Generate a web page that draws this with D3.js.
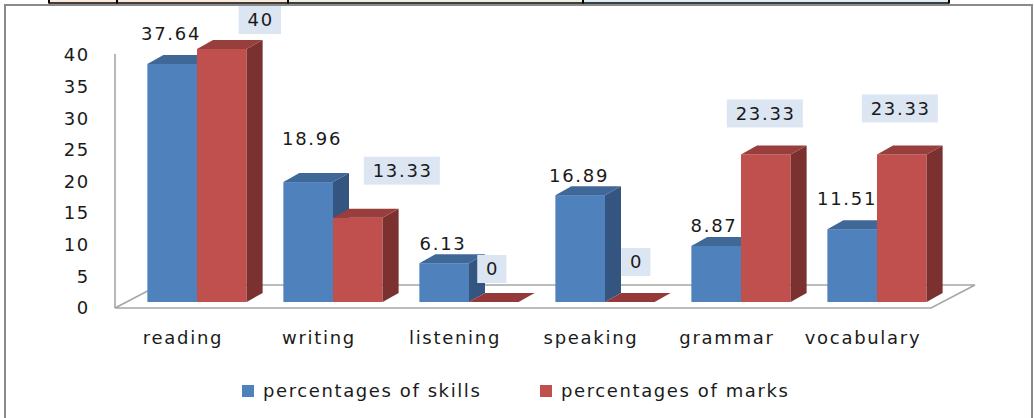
<!DOCTYPE html>
<meta charset="utf-8">
<script src="https://d3js.org/d3.v7.min.js"></script>
<style>
  body { margin: 0; background: #fff; }
  text { font-family: "DejaVu Sans", Verdana, sans-serif; fill: #1a1a1a; }
</style>
<div id="my_dataviz"></div>
<script>

// data
var categories = ["reading", "writing", "listening", "speaking", "grammar", "vocabulary"];
var seriesNames = ["percentages of skills", "percentages of marks"];
var skills = [37.64, 18.96, 6.13, 16.89, 8.87, 11.51];
var marks = [40, 13.33, 0, 0, 23.33, 23.33];
var yTicks = [0, 5, 10, 15, 20, 25, 30, 35, 40];

// hand placed data labels in the original (offset from the bar top, px)
var skillLabelShift = [[-2, -30], [3, -44], [-2, -20], [-2, -20], [-3, -20], [-6, -31]];
var markLabelShift = [[38, -29], [44, -47], [-2, -33], [6, -40], [-1, -41], [-2, -46]];

var width = 1034, height = 418;

var svg = d3.select("#my_dataviz")
  .append("svg")
    .attr("width", width)
    .attr("height", height);

// strip of the table above the chart
var stripEdges = [49, 117, 288, 583, 949];
var stripFills = ["#fde9d9", "#fde9d9", "#ebf1de", "#dbeef3"];
stripFills.forEach(function(f, i) {
  svg.append("rect")
    .attr("x", stripEdges[i]).attr("y", 0)
    .attr("width", stripEdges[i + 1] - stripEdges[i]).attr("height", 3)
    .style("fill", f);
});
svg.append("line")
  .attr("x1", 49).attr("x2", 949).attr("y1", 3).attr("y2", 3)
  .style("stroke", "#000").style("stroke-width", 1.5);
stripEdges.forEach(function(x) {
  svg.append("line")
    .attr("x1", x).attr("x2", x).attr("y1", 0).attr("y2", 3.5)
    .style("stroke", "#000").style("stroke-width", 2);
});

// chart frame
svg.append("rect")
  .attr("x", 5).attr("y", 5)
  .attr("width", 1027).attr("height", 430)
  .style("fill", "#fff")
  .style("stroke", "#8a8a8a")
  .style("stroke-width", 2);

// front plane scales
var x = d3.scaleBand()
  .domain(categories)
  .range([115, 931]);

var xSub = d3.scaleBand()
  .domain([0, 1])
  .range([0, x.bandwidth()])
  .paddingOuter(0.37);

var y = d3.scaleLinear()
  .domain([0, 40])
  .range([308, 55]);

// depth offsets of the oblique projection
var floorDepth = [44, -23];
var barShift = [14, -6];     // bars sit a bit behind the front edge
var barDepth = [16, -9];

// floor
var fl = [115, 308], fr = [931, 308];
svg.append("path")
  .attr("d", "M" + fl + "L" + fr +
    "L" + [fr[0] + floorDepth[0], fr[1] + floorDepth[1]] +
    "L" + [fl[0] + floorDepth[0], fl[1] + floorDepth[1]] + "Z")
  .style("fill", "none")
  .style("stroke", "#a6a6a6")
  .style("stroke-width", 1.6);

// value axis
svg.append("line")
  .attr("x1", 115).attr("x2", 115)
  .attr("y1", y(0)).attr("y2", y(40) - 1)
  .style("stroke", "#a6a6a6")
  .style("stroke-width", 1.6);

var yAxis = svg.append("g")
  .attr("transform", "translate(115,0)")
  .call(d3.axisLeft(y).tickValues(yTicks).tickSize(0).tickPadding(25));
yAxis.select(".domain").remove();
yAxis.selectAll("text")
  .style("font-family", "'DejaVu Sans', Verdana, sans-serif")
  .style("font-size", "18px")
  .style("letter-spacing", "1.7px")
  .style("fill", "#1a1a1a");

// bars
var colors = [
  { front: "#4f81bd", top: "#3f6899", side: "#34557f" },
  { front: "#c0504d", top: "#983f3d", side: "#7b3130" }
];

var rows = [];
categories.forEach(function(c, i) {
  rows.push({ cat: c, s: 0, v: skills[i], i: i });
  rows.push({ cat: c, s: 1, v: marks[i], i: i });
});

function barGeom(d) {
  var x0 = x(d.cat) + xSub(d.s) + barShift[0];
  var x1 = x0 + xSub.bandwidth();
  var yb = y(0) + barShift[1];
  var yt = y(d.v) + barShift[1];
  return { x0: x0, x1: x1, yb: yb, yt: yt };
}

function pt(a, b) { return a + "," + b; }

var bars = svg.selectAll(".bar")
  .data(rows)
  .enter()
  .append("g")
    .attr("class", "bar");

bars.each(function(d) {
  var g = d3.select(this), b = barGeom(d), c = colors[d.s];
  var dx = barDepth[0], dy = barDepth[1];
  if (d.v > 0) {
    g.append("rect")
      .attr("x", b.x0).attr("y", b.yt)
      .attr("width", b.x1 - b.x0).attr("height", b.yb - b.yt)
      .style("fill", c.front);
    g.append("path")
      .attr("d", "M" + pt(b.x1, b.yt) + "L" + pt(b.x1 + dx, b.yt + dy) +
        "L" + pt(b.x1 + dx, b.yb + dy) + "L" + pt(b.x1, b.yb) + "Z")
      .style("fill", c.side);
  }
  g.append("path")
    .attr("d", "M" + pt(b.x0, b.yt) + "L" + pt(b.x0 + dx, b.yt + dy) +
      "L" + pt(b.x1 + dx, b.yt + dy) + "L" + pt(b.x1, b.yt) + "Z")
    .style("fill", d.v > 0 ? c.top : "#953a38");
});

// category labels on the front plane
svg.selectAll(".cat")
  .data(categories)
  .enter()
  .append("text")
    .attr("class", "cat")
    .attr("x", function(d) { return x(d) + x.bandwidth() / 2; })
    .attr("y", 344)
    .attr("text-anchor", "middle")
    .style("font-size", "18px")
    .style("letter-spacing", "1.7px")
    .text(function(d) { return d; });

// data labels
var labels = svg.selectAll(".vlab")
  .data(rows)
  .enter()
  .append("g")
    .attr("class", "vlab")
    .attr("transform", function(d) {
      var b = barGeom(d);
      var sh = d.s === 0 ? skillLabelShift[d.i] : markLabelShift[d.i];
      return "translate(" + ((b.x0 + b.x1) / 2 + sh[0]) + "," + (b.yt + sh[1]) + ")";
    });

labels.each(function(d) {
  var g = d3.select(this);
  var t = g.append("text")
    .attr("text-anchor", "middle")
    .attr("dy", "0.36em")
    .attr("dx", "0.85")
    .style("font-size", "18px")
    .style("letter-spacing", "1.7px")
    .text(d.v);
  if (d.s === 1) {
    var w = t.node().getComputedTextLength();
    g.insert("rect", "text")
      .attr("x", -w / 2 - 8).attr("y", -14)
      .attr("width", w + 16).attr("height", 28)
      .style("fill", "#dce6f2");
  }
});

// legend
var legendX = [242, 540];
seriesNames.forEach(function(name, i) {
  svg.append("rect")
    .attr("x", legendX[i]).attr("y", 385)
    .attr("width", 12).attr("height", 12)
    .style("fill", colors[i].front);
  svg.append("text")
    .attr("x", legendX[i] + 21).attr("y", 397)
    .style("font-size", "18px")
    .style("letter-spacing", "1.6px")
    .text(name);
});

</script>
